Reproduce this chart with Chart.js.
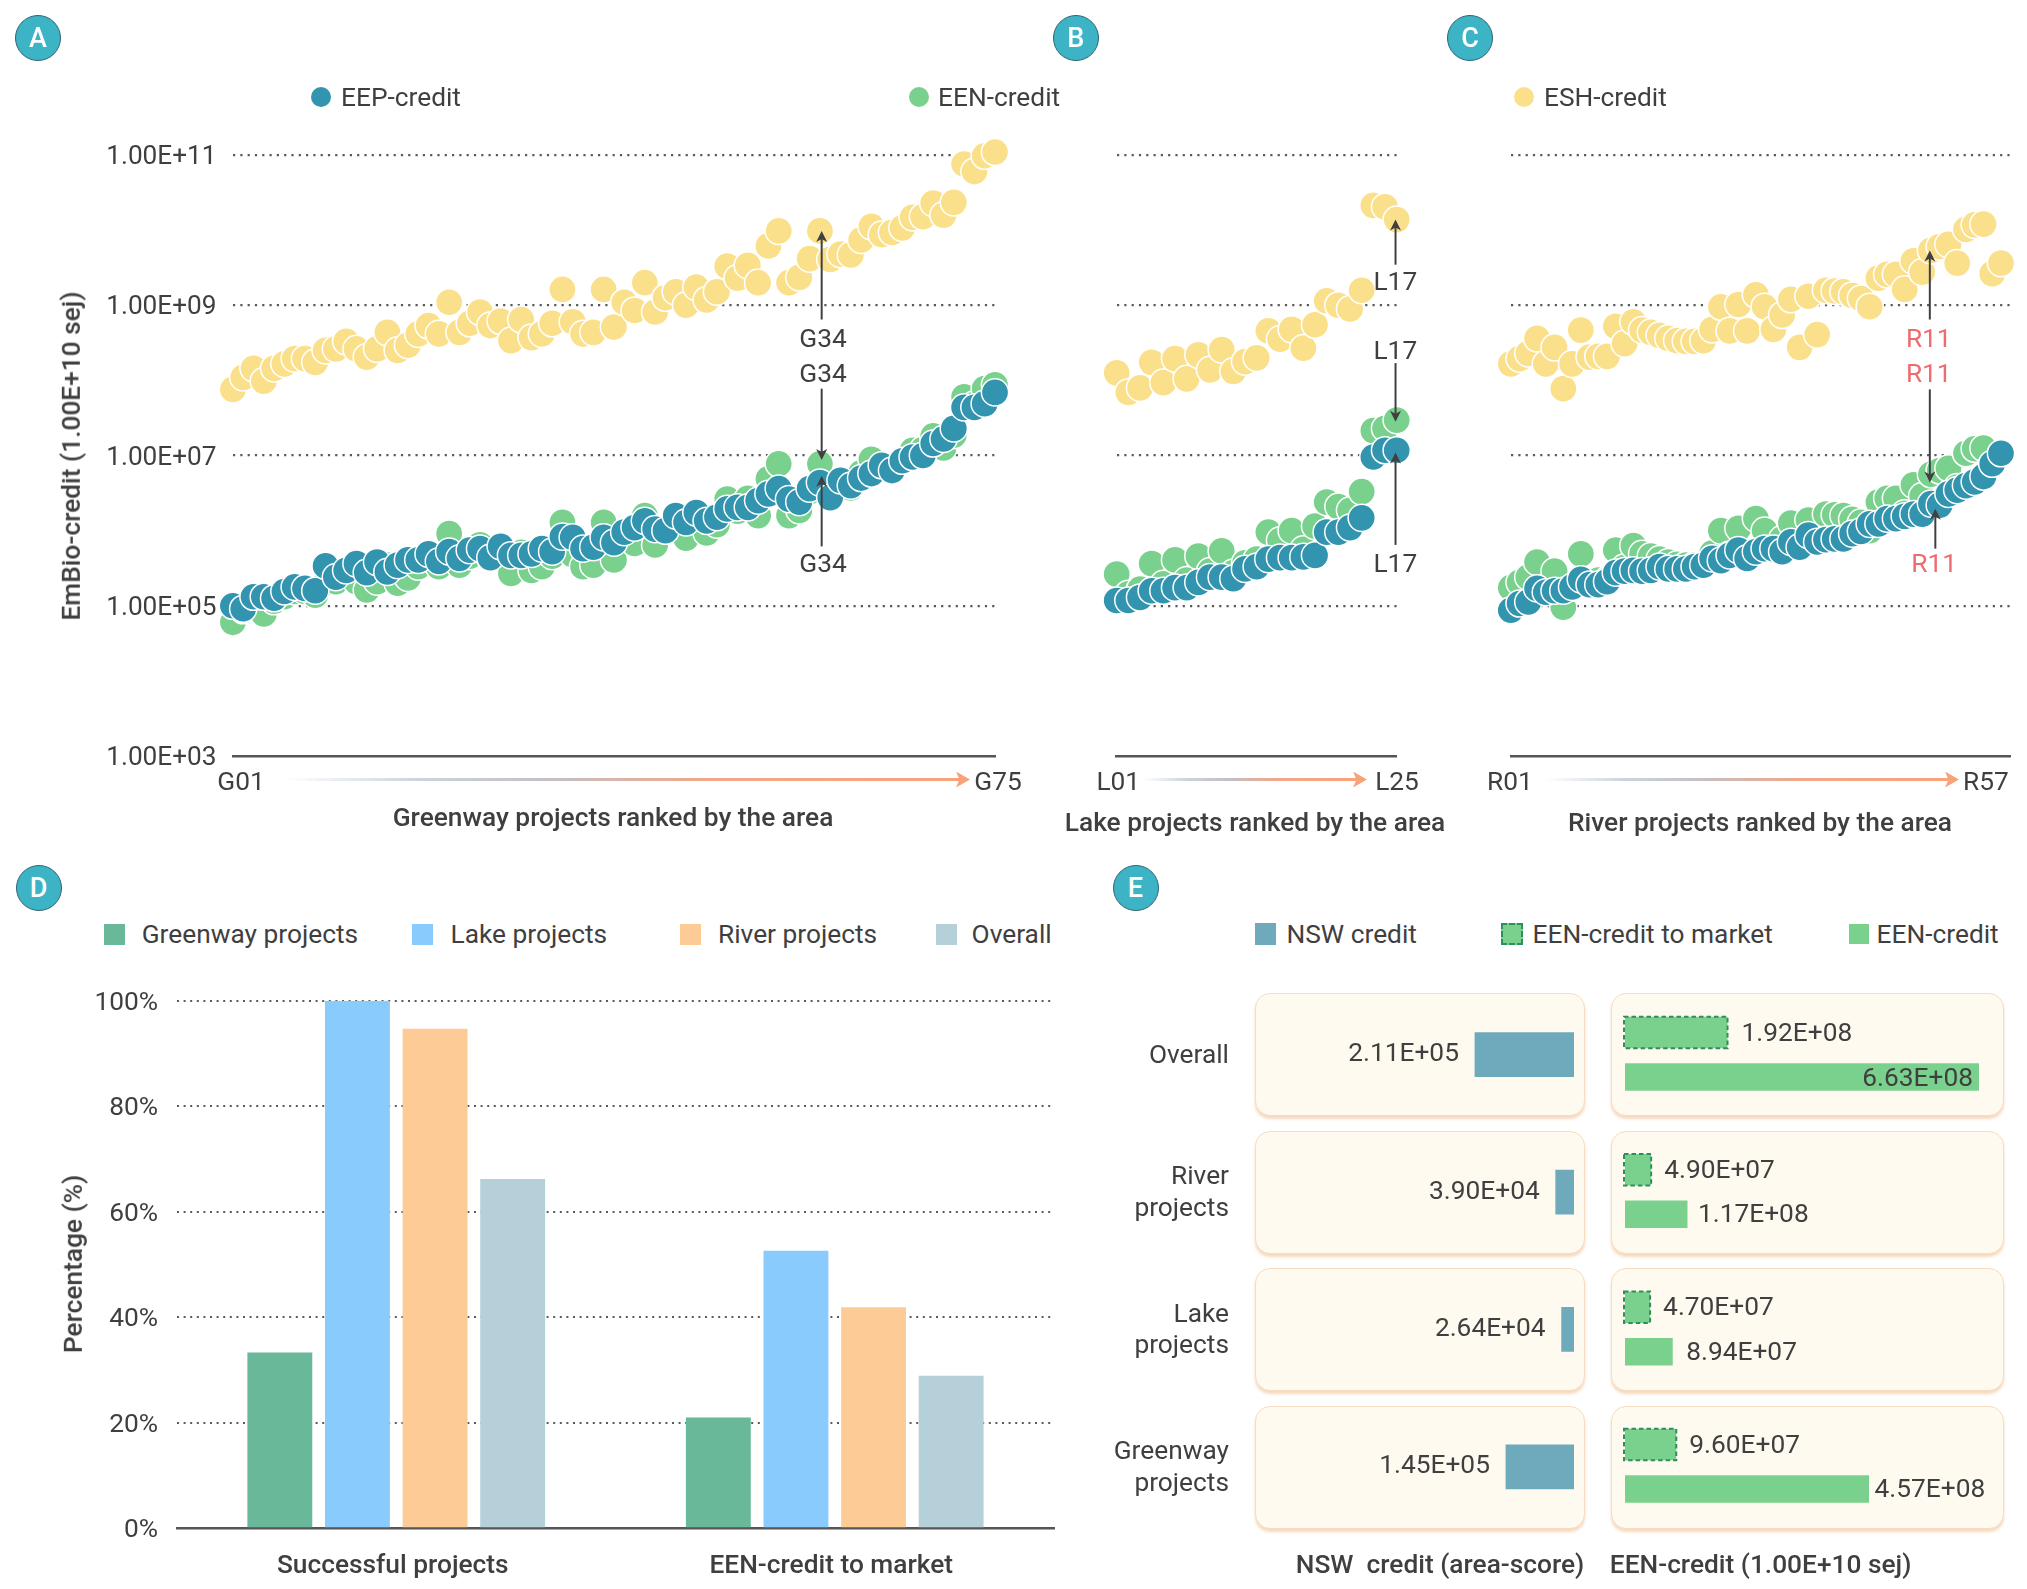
<!DOCTYPE html>
<html>
<head>
<meta charset="utf-8">
<script src="https://cdn.jsdelivr.net/npm/chart.js@4"></script>
<style>
html,body{margin:0;padding:0;background:#fff;}
#page{position:relative;width:2027px;height:1589px;overflow:hidden;background:#fff;font-family:Roboto,sans-serif;color:#3f3f3f;}
canvas{position:absolute;}
.t{position:absolute;white-space:pre;transform:translate(-50%,-50%);line-height:1;}
.badge{position:absolute;width:44px;height:44px;border-radius:50%;background:#3DB4C6;border:1.5px solid #2E6472;color:#fff;font-size:27px;font-weight:500;display:flex;align-items:center;justify-content:center;transform:translate(-50%,-50%);}
.card{position:absolute;box-sizing:border-box;background:#FFFAF0;border:1.5px solid #F8DCC0;border-radius:15px;box-shadow:0 3px 3px #F8D9BE;}
.sw{position:absolute;box-sizing:border-box;}
.flow{position:absolute;height:3px;background:linear-gradient(90deg,rgba(205,220,232,0),#C9D4DF 20%,#C4BEC4 40%,#F0A888 62%,#F9A27A);}
.head{position:absolute;width:14px;height:16px;background:#F9A27A;clip-path:polygon(0 0,100% 50%,0 100%,25% 50%);}
</style>
</head>
<body>
<div id="page"></div>
<script>
// ---------- Panel A: Greenway projects (log10 of credit, ranked order) ----------
const greenwayEEP = [5.00,4.96,5.12,5.12,5.10,5.19,5.25,5.23,5.20,5.53,5.38,5.47,5.56,5.44,5.58,5.45,5.54,5.61,5.61,5.69,5.59,5.72,5.63,5.74,5.76,5.64,5.79,5.67,5.67,5.69,5.76,5.72,5.92,5.91,5.76,5.78,5.91,5.84,5.98,6.04,6.13,6.02,6.00,6.20,6.11,6.24,6.13,6.18,6.29,6.31,6.31,6.40,6.49,6.56,6.42,6.38,6.56,6.64,6.44,6.67,6.60,6.70,6.76,6.87,6.80,6.93,6.98,7.00,7.16,7.22,7.36,7.64,7.64,7.69,7.84];
const greenwayEEN = [4.78,4.94,5.06,4.89,5.06,5.12,5.19,5.19,5.14,5.30,5.32,5.42,5.32,5.21,5.32,5.54,5.30,5.37,5.52,5.63,5.52,5.96,5.54,5.66,5.81,5.63,5.69,5.43,5.71,5.47,5.52,5.66,6.11,5.68,5.52,5.54,6.11,5.61,5.94,5.83,6.20,5.81,6.00,6.08,5.90,6.14,5.97,6.08,6.42,6.26,6.43,6.20,6.69,6.89,6.20,6.27,6.52,6.89,6.51,6.58,6.57,6.77,6.95,6.84,6.87,6.93,7.07,7.08,7.26,7.10,7.27,7.78,7.68,7.89,7.94];
const greenwayESH = [7.88,8.04,8.16,7.99,8.16,8.22,8.29,8.29,8.24,8.40,8.42,8.52,8.42,8.31,8.42,8.64,8.40,8.47,8.62,8.73,8.62,9.04,8.64,8.76,8.91,8.73,8.79,8.53,8.81,8.57,8.62,8.76,9.21,8.78,8.62,8.64,9.21,8.71,9.04,8.93,9.30,8.91,9.10,9.18,9.00,9.24,9.07,9.18,9.52,9.36,9.53,9.30,9.79,9.99,9.30,9.37,9.62,9.99,9.61,9.68,9.67,9.87,10.05,9.94,9.97,10.03,10.17,10.18,10.36,10.20,10.37,10.88,10.78,10.99,11.04];
// ---------- Panel B: Lake projects ----------
const lakeEEP = [5.07,5.07,5.11,5.20,5.20,5.24,5.24,5.31,5.38,5.38,5.36,5.49,5.52,5.62,5.64,5.64,5.65,5.67,5.98,5.98,6.04,6.17,6.98,7.07,7.07];
const lakeEEN = [5.42,5.16,5.22,5.56,5.29,5.61,5.34,5.66,5.46,5.73,5.44,5.57,5.62,5.98,5.87,6.00,5.75,6.06,6.38,6.32,6.27,6.52,7.33,7.36,7.47];
const lakeESH = [8.10,7.84,7.90,8.24,7.97,8.29,8.02,8.34,8.14,8.41,8.12,8.25,8.30,8.66,8.55,8.68,8.43,8.74,9.06,9.00,8.95,9.20,10.33,10.31,10.14];
// ---------- Panel C: River projects ----------
const riverEEP = [4.94,5.03,5.05,5.23,5.18,5.20,5.20,5.25,5.35,5.28,5.28,5.32,5.44,5.46,5.47,5.46,5.47,5.52,5.49,5.49,5.49,5.52,5.54,5.63,5.60,5.67,5.74,5.63,5.72,5.76,5.76,5.72,5.85,5.78,5.94,5.85,5.88,5.89,5.89,5.96,5.99,6.09,6.09,6.16,6.16,6.19,6.22,6.22,6.36,6.34,6.49,6.54,6.60,6.65,6.72,6.89,7.03];
const riverEEN = [5.24,5.31,5.38,5.58,5.24,5.46,4.98,5.24,5.69,5.33,5.34,5.34,5.74,5.51,5.80,5.69,5.66,5.62,5.58,5.55,5.54,5.54,5.55,5.70,6.00,5.68,6.03,5.68,6.16,6.00,5.74,5.89,6.10,5.78,6.14,5.85,6.22,6.21,6.20,6.15,6.11,6.00,6.38,6.43,6.43,6.23,6.61,6.46,6.75,6.80,6.83,6.58,7.03,7.09,7.10,6.88,7.02];
const riverESH = [8.22,8.29,8.36,8.56,8.22,8.44,7.89,8.22,8.67,8.31,8.32,8.32,8.72,8.49,8.78,8.67,8.64,8.60,8.56,8.53,8.52,8.52,8.53,8.68,8.98,8.66,9.01,8.66,9.14,8.98,8.68,8.87,9.08,8.44,9.12,8.61,9.20,9.19,9.18,9.13,9.09,8.98,9.36,9.41,9.41,9.21,9.59,9.44,9.73,9.78,9.81,9.56,10.01,10.07,10.08,9.42,9.56];
// ---------- Shared log axis ----------
const logTicks = [1e3,1e5,1e7,1e9,1e11];
const logTickLabels = ['1.00E+03','1.00E+05','1.00E+07','1.00E+09','1.00E+11'];
// ---------- Callouts: [rank, from log10, to log10] ----------
const greenwayArrows = [[58.17,8.81,9.99],[58.17,7.89,6.94],[58.17,5.79,6.73]];
const greenwayCallouts = [[58.3,8.57],[58.3,8.10],[58.3,5.57]];
const lakeArrows = [[24.9,9.54,10.14],[24.9,8.23,7.45],[24.9,5.81,7.04]];
const lakeCallouts = [[24.88,9.32],[24.88,8.41],[24.88,5.57]];
const riverArrows = [[48.87,8.81,9.73],[48.87,7.88,6.64],[49.5,5.76,6.29]];
const riverCallouts = [[48.75,8.57],[48.75,8.10],[49.37,5.57]];
// ---------- Panel D ----------
const dCategories = ['Successful projects','EEN-credit to market'];
const dGreenway = [33.3,21.0];
const dLake = [100,52.6];
const dRiver = [94.7,41.9];
const dOverall = [66.2,28.9];
// ---------- Panel E ----------
const eRows = ['Overall',['River','projects'],['Lake','projects'],['Greenway','projects']];
const eNSW = [2.11e5,3.90e4,2.64e4,1.45e5];
const eToMarket = [1.92e8,4.90e7,4.70e7,9.60e7];
const eCredit = [6.63e8,1.17e8,8.94e7,4.57e8];

const C = {eep:'#3294AE',een:'#7AD18D',esh:'#FBE08C',text:'#3f3f3f',red:'#EE6B6E',dots:'#5a5a5a',axis:'#555555'};
const FS = 26.3;
Chart.defaults.font.family = 'Roboto, sans-serif';
Chart.defaults.color = C.text;
Chart.defaults.animation = false;
const page = document.getElementById('page');

function txt(s,x,y,o={}){
  const d=document.createElement('div');d.className='t';d.textContent=s;
  d.style.left=x+'px';d.style.top=y+'px';
  d.style.fontSize=(o.size||FS)+'px';d.style.fontWeight=o.weight||400;d.style.color=o.color||C.text;
  if(o.rot)d.style.transform='translate(-50%,-50%) rotate('+o.rot+'deg)';
  if(o.left)d.style.transform='translate(0,-50%)';
  page.appendChild(d);return d;
}
function box(cls,x,y,w,h,bg,extra){
  const d=document.createElement('div');d.className=cls;
  d.style.left=x+'px';d.style.top=y+'px';if(w!=null)d.style.width=w+'px';if(h!=null)d.style.height=h+'px';
  if(bg)d.style.background=bg;if(extra)d.style.cssText+=extra;page.appendChild(d);return d;
}
function badge(s,x,y){const d=box('badge',x,y);d.textContent=s;}
function mkCanvas(x,y,w,h){
  const c=document.createElement('canvas');c.width=w;c.height=h;
  c.style.left=x+'px';c.style.top=y+'px';c.style.width=w+'px';c.style.height=h+'px';
  page.appendChild(c);return c;
}
function flow(x1,x2,y){
  box('flow',x1,y-1.5,x2-x1-8);
  box('head',x2-14,y-8);
}

// Cards are behind the panel E canvases
[993,1130.5,1268,1405.5].forEach(y=>{
  box('card',1255,y,330,123);
  box('card',1611,y,393,123);
});

const arrowPlugin = {
  id:'callouts',
  afterDatasetsDraw(chart,args,opts){
    const {ctx,scales:{x,y}}=chart;
    ctx.save();
    ctx.strokeStyle='#404040';ctx.fillStyle='#404040';ctx.lineWidth=2;
    (opts.arrows||[]).forEach(([r,from,to])=>{
      const px=x.getPixelForValue(r),a=y.getPixelForValue(10**from),b=y.getPixelForValue(10**to);
      const dir=b<a?1:-1;
      ctx.beginPath();ctx.moveTo(px,a);ctx.lineTo(px,b+dir*6);ctx.stroke();
      ctx.beginPath();ctx.moveTo(px,b);ctx.lineTo(px-5.5,b+dir*11);ctx.lineTo(px,b+dir*8);ctx.lineTo(px+5.5,b+dir*11);ctx.closePath();ctx.fill();
    });
    ctx.font='400 '+FS+'px Roboto, sans-serif';ctx.textAlign='center';ctx.textBaseline='middle';
    ctx.fillStyle=opts.labelColor||C.text;
    (opts.callouts||[]).forEach(([r,v])=>{
      ctx.fillText(opts.label,x.getPixelForValue(r),y.getPixelForValue(10**v)+2.5);
    });
    ctx.restore();
  }
};

function scatterPanel(cv,esh,een,eep,pad,xMax,showTicks,arrows,callouts,label,labelColor){
  const pts=a=>a.map((v,i)=>({x:i+1,y:10**v}));
  const common={showLine:false,pointRadius:13.6,pointHoverRadius:13.6,pointBorderColor:'#ffffff',pointBorderWidth:1.5,clip:false};
  return new Chart(cv,{
    type:'scatter',
    data:{datasets:[
      {label:'EEP-credit',data:pts(eep),backgroundColor:C.eep,order:1,...common},
      {label:'EEN-credit',data:pts(een),backgroundColor:C.een,order:2,...common},
      {label:'ESH-credit',data:pts(esh),backgroundColor:C.esh,order:3,...common}
    ]},
    options:{
      responsive:false,devicePixelRatio:1,animation:false,
      layout:{padding:pad},
      plugins:{legend:{display:false},tooltip:{enabled:false},
        callouts:{arrows,callouts,label,labelColor}},
      scales:{
        x:{type:'linear',min:1,max:xMax,
          afterFit:s=>{s.height=0;},
          ticks:{display:false},grid:{display:false,drawTicks:false},
          border:{display:true,color:C.axis,width:2.5}},
        y:{type:'logarithmic',min:1e3,max:1e11,
          afterFit:s=>{s.width=showTicks?232.9:0;},
          afterBuildTicks:s=>{s.ticks=logTicks.map(value=>({value}));},
          ticks:{display:showTicks,autoSkip:false,padding:16.4,labelOffset:2.6,font:{size:26.2},color:C.text,
            callback:v=>logTickLabels[logTicks.indexOf(v)]},
          grid:{drawTicks:false,lineWidth:2.2,color:c=>c.tick&&c.tick.value===1e3?'rgba(0,0,0,0)':C.dots},
          border:{display:false,dash:[2.2,5.1]}}
      }
    },
    plugins:[arrowPlugin]
  });
}

// Panel A
scatterPanel(mkCanvas(0,0,1040,860),greenwayESH,greenwayEEN,greenwayEEP,
  {left:0,right:45,top:155,bottom:104},75,true,greenwayArrows,greenwayCallouts,'G34',C.text);
// Panel B
scatterPanel(mkCanvas(1040,0,460,860),lakeESH,lakeEEN,lakeEEP,
  {left:76.7,right:103.3,top:155,bottom:104},25,false,lakeArrows,lakeCallouts,'L17',C.text);
// Panel C
scatterPanel(mkCanvas(1490,0,537,860),riverESH,riverEEN,riverEEP,
  {left:20.8,right:17,top:155,bottom:104},58.03,false,riverArrows,riverCallouts,'R11',C.red);

// Panel D
new Chart(mkCanvas(0,950,1100,639),{
  type:'bar',
  data:{labels:dCategories,datasets:[
    {label:'Greenway projects',data:dGreenway,backgroundColor:'#69B89A'},
    {label:'Lake projects',data:dLake,backgroundColor:'#8ACBFE'},
    {label:'River projects',data:dRiver,backgroundColor:'#FDCB96'},
    {label:'Overall',data:dOverall,backgroundColor:'#B5D0D8'}
  ]},
  options:{
    responsive:false,devicePixelRatio:1,animation:false,
    layout:{padding:{left:0,right:46,top:50.8,bottom:0}},
    datasets:{bar:{categoryPercentage:0.708,barPercentage:0.836}},
    plugins:{legend:{display:false},tooltip:{enabled:false}},
    scales:{
      x:{afterFit:s=>{s.height=60.8;},
        grid:{display:false,drawTicks:false},
        ticks:{padding:22.5,labelOffset:-3.5,font:{size:FS,weight:500},color:C.text,maxRotation:0},
        border:{display:true,color:C.axis,width:2.5}},
      y:{min:0,max:100,afterFit:s=>{s.width=177;},
        ticks:{stepSize:20,padding:19,labelOffset:2.6,font:{size:FS},color:C.text,callback:v=>v+'%'},
        grid:{drawTicks:false,lineWidth:2,color:c=>c.tick&&c.tick.value===0?'rgba(0,0,0,0)':C.dots},
        border:{display:false,dash:[2,4.6]}}
    }
  }
});

const valueLabelPlugin = {
  id:'valueLabels',
  afterDatasetsDraw(chart,args,opts){
    const {ctx}=chart;
    ctx.save();
    ctx.font='400 '+FS+'px Roboto, sans-serif';ctx.textBaseline='middle';ctx.fillStyle=C.text;
    chart.data.datasets.forEach((ds,di)=>{
      chart.getDatasetMeta(di).data.forEach((bar,i)=>{
        const v=ds.data[i];
        const s=v.toExponential(2).replace('e+','E+').replace(/E\+(\d)$/,'E+0$1');
        if(opts.reverse){
          ctx.textAlign='right';ctx.fillText(s,bar.x-16,bar.y);
        }else{
          const gap=opts.gaps[di][i];
          if(gap<0){ctx.textAlign='right';ctx.fillText(s,bar.x+gap,bar.y+2.5);}
          else{ctx.textAlign='left';ctx.fillText(s,bar.x+gap,bar.y+1.5);}
        }
      });
    });
    ctx.restore();
  }
};
const dashedPlugin = {
  id:'dashedBars',
  afterDatasetsDraw(chart){
    const {ctx}=chart;
    ctx.save();
    ctx.strokeStyle='#2F8F5B';ctx.lineWidth=2;ctx.setLineDash([4.5,3]);
    chart.getDatasetMeta(0).data.forEach(b=>{
      const h=b.height;
      ctx.strokeRect(b.base-1,b.y-h/2,b.x-b.base+1,h);
    });
    ctx.restore();
  }
};

// Panel E, left
new Chart(mkCanvas(1100,980,500,570),{
  type:'bar',
  data:{labels:eRows,datasets:[{label:'NSW credit',data:eNSW,backgroundColor:'#6FA9BC',barThickness:44}]},
  options:{
    indexAxis:'y',responsive:false,devicePixelRatio:1,animation:false,
    layout:{padding:{left:0,right:26,top:6,bottom:14.5}},
    plugins:{legend:{display:false},tooltip:{enabled:false},valueLabels:{reverse:true}},
    scales:{
      x:{display:false,reverse:true,min:0,max:690000},
      y:{afterFit:s=>{s.width=150;s.paddingTop=0;s.paddingBottom=0;},
        grid:{display:false,drawTicks:false},border:{display:false},
        ticks:{padding:21,labelOffset:1.5,autoSkip:false,font:{size:FS,lineHeight:1.21},color:C.text}}
    }
  },
  plugins:[valueLabelPlugin]
});
// Panel E, right
new Chart(mkCanvas(1600,980,427,570),{
  type:'bar',
  data:{labels:eRows,datasets:[
    {label:'EEN-credit to market',data:eToMarket,backgroundColor:C.een,barPercentage:0.71,categoryPercentage:0.648},
    {label:'EEN-credit',data:eCredit,backgroundColor:C.een,barPercentage:0.62,categoryPercentage:0.648}
  ]},
  options:{
    indexAxis:'y',responsive:false,devicePixelRatio:1,animation:false,
    layout:{padding:{left:25,right:27,top:6,bottom:14.5}},
    plugins:{legend:{display:false},tooltip:{enabled:false},
      valueLabels:{gaps:[[14,13,13,13],[-6,10.5,13.5,5.5]]}},
    scales:{
      x:{display:false,min:0,max:702300000},
      y:{display:false}
    }
  },
  plugins:[valueLabelPlugin,dashedPlugin]
});

// Panel badges
badge('A',38,38);badge('B',1075.7,38);badge('C',1470,38);badge('D',38.6,888);badge('E',1135.5,888);

// Legend A-C
[[321.4,'EEP-credit',C.eep,341],[919,'EEN-credit',C.een,938],[1524,'ESH-credit',C.esh,1544]].forEach(([cx,s,col,tx])=>{
  box('sw',cx-10,87,20,20,col,'border-radius:50%;');
  txt(s,tx,97,{left:true});
});
// Axis titles and ends
txt('EmBio-credit (1.00E+10 sej)',71,456,{rot:-90,weight:500});
txt('G01',241,781);txt('G75',998,781);
txt('L01',1118.3,781);txt('L25',1397,781);
txt('R01',1510,781);txt('R57',1986,781);
flow(283,970,779.5);flow(1143,1367,779.5);flow(1544,1959,779.5);
txt('Greenway projects ranked by the area',613,817,{weight:500});
txt('Lake projects ranked by the area',1255,822,{weight:500});
txt('River projects ranked by the area',1760,822,{weight:500});

// Legend D
[[104,'Greenway projects','#69B89A',141.7],[412,'Lake projects','#8ACBFE',450.5],[680,'River projects','#FDCB96',718],[936,'Overall','#B5D0D8',971.6]].forEach(([x,s,col,tx])=>{
  box('sw',x,924,20.5,20.5,col);
  txt(s,tx,934,{left:true});
});
txt('Percentage (%)',72.5,1264,{rot:-90,weight:500});

// Legend E
box('sw',1255,923,21,22,'#6FA9BC');txt('NSW credit',1286.5,934,{left:true});
box('sw',1501,923,22,22,C.een,'border:2px dashed #2F8F5B;');txt('EEN-credit to market',1532.5,934,{left:true});
box('sw',1849,924,20,20,C.een);txt('EEN-credit',1876.6,934,{left:true});
txt('NSW  credit (area-score)',1440,1564,{weight:500});
txt('EEN-credit (1.00E+10 sej)',1760.6,1564,{weight:500});
</script>
</body>
</html>
